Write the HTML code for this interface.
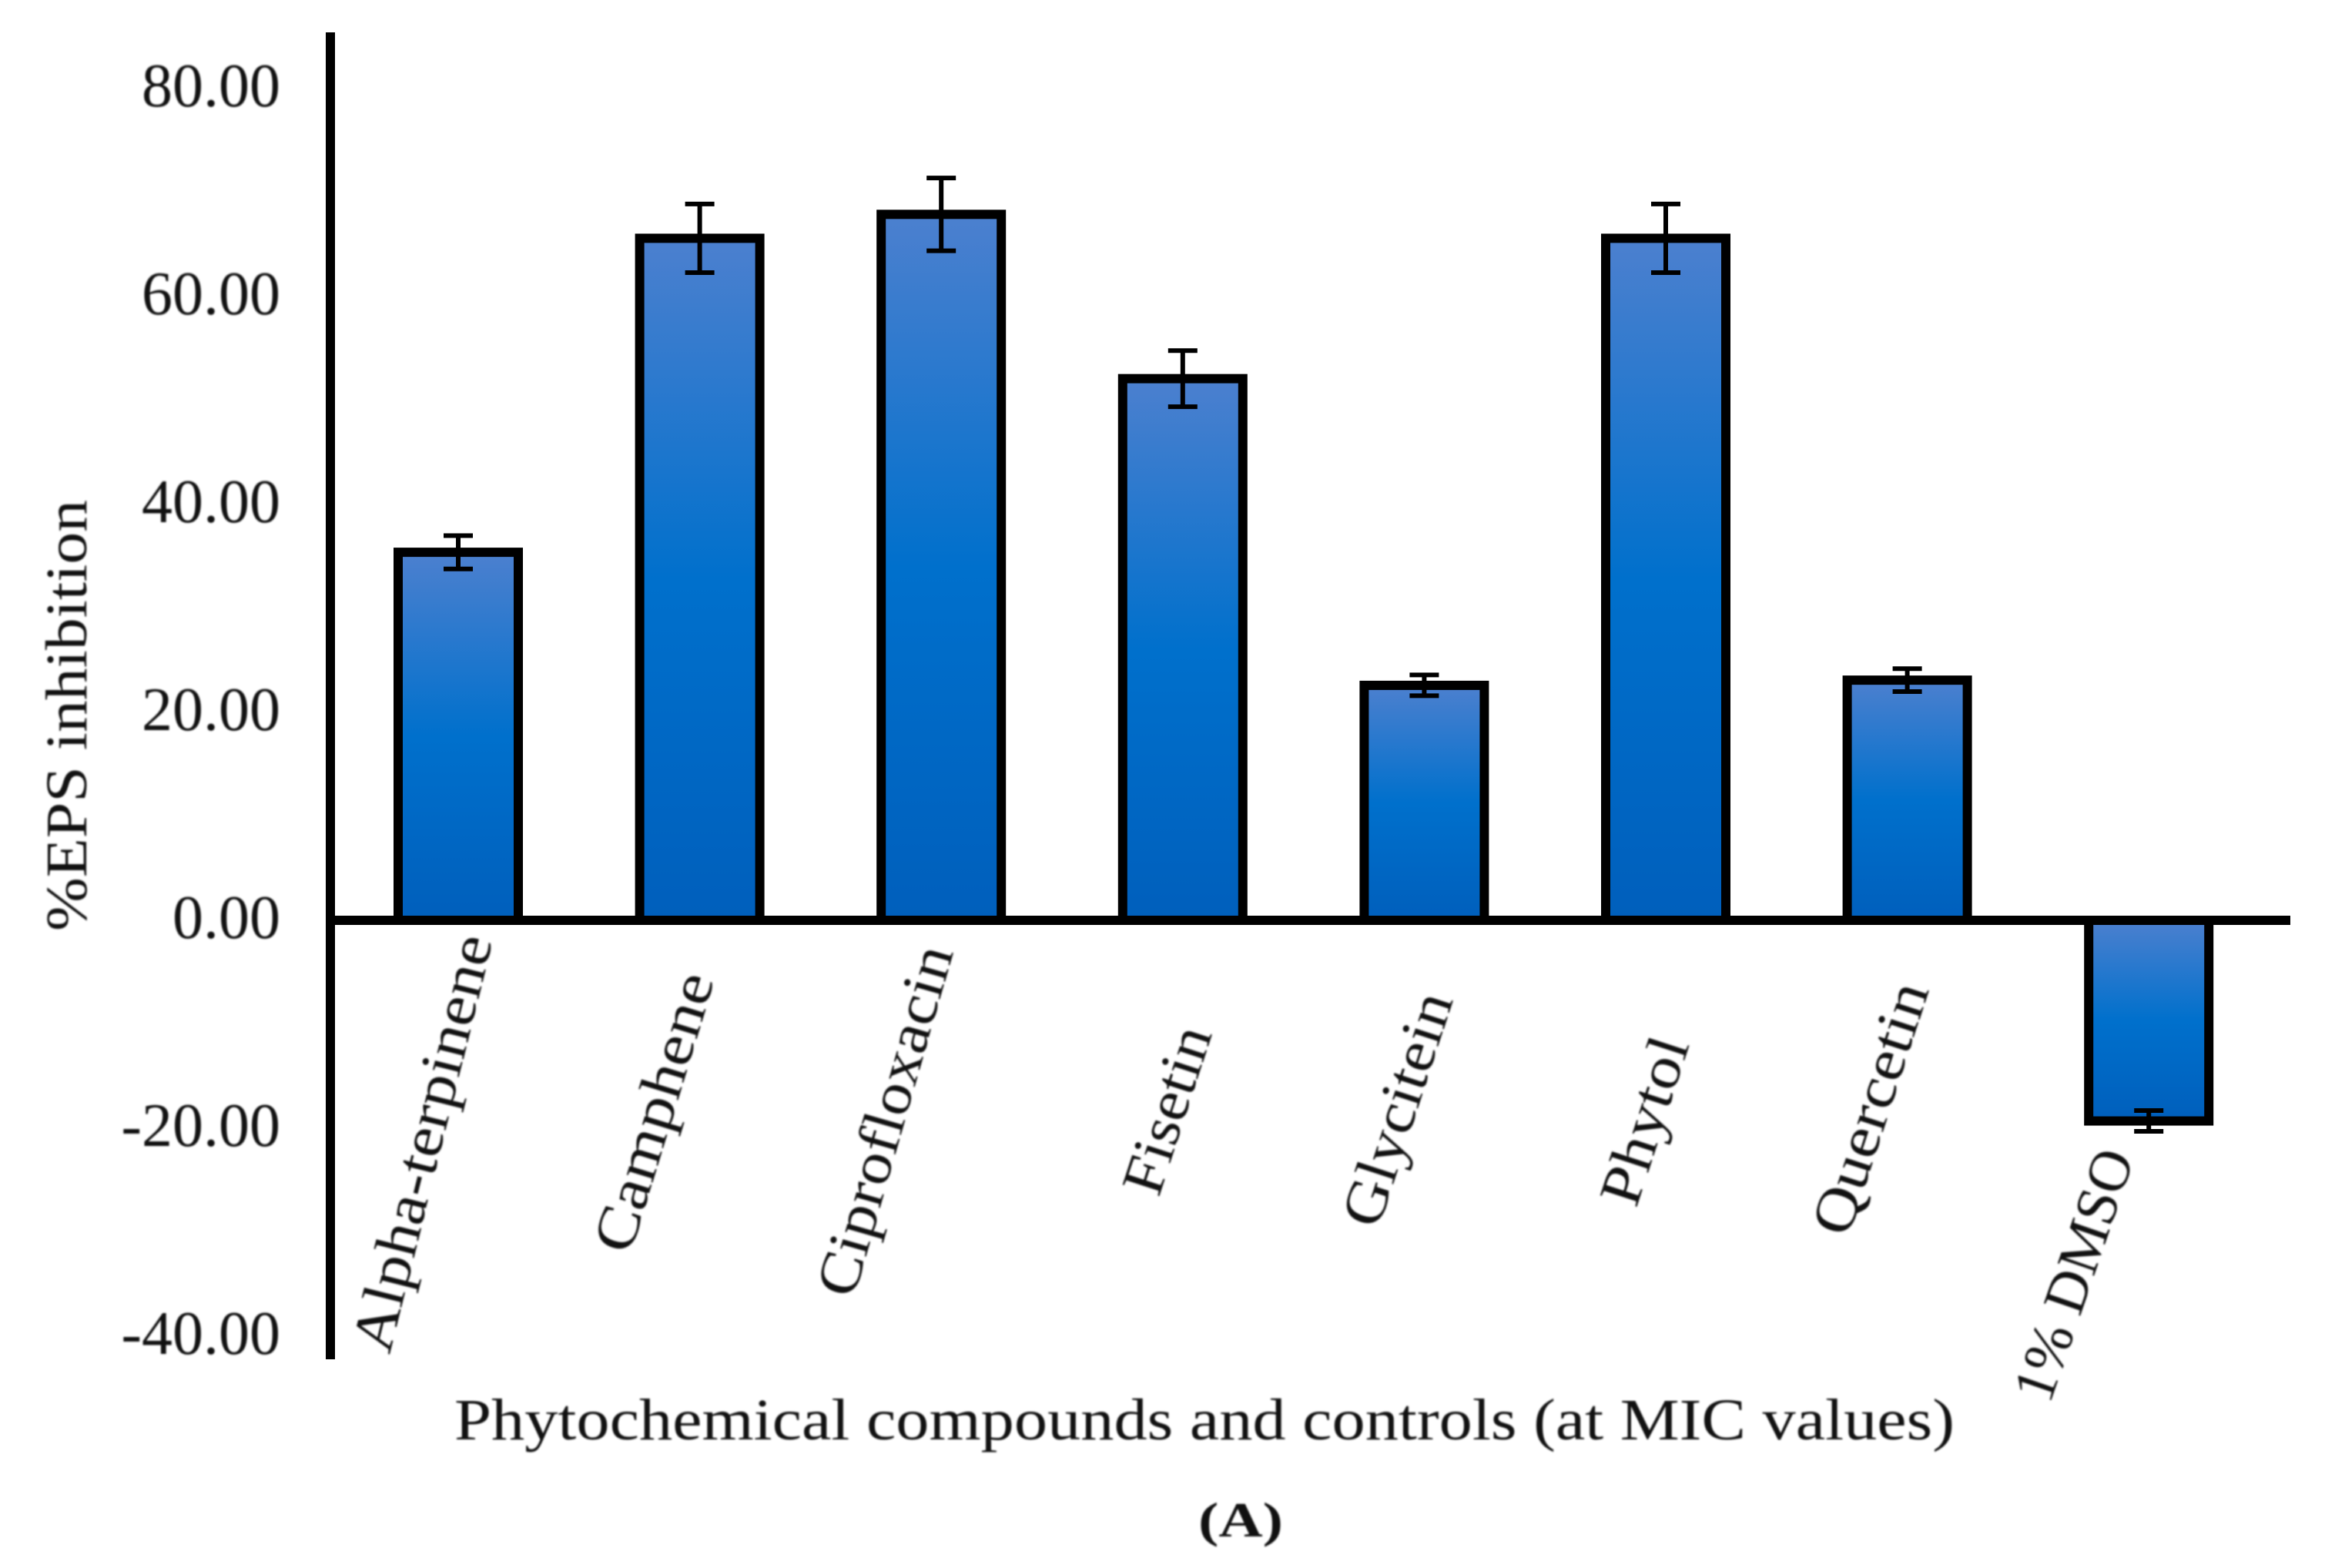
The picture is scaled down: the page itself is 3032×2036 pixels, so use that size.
<!DOCTYPE html>
<html>
<head>
<meta charset="utf-8">
<title>%EPS inhibition chart</title>
<style>
html,body{margin:0;padding:0;background:#fff;width:3032px;height:2036px;overflow:hidden}
svg{display:block}
text{font-family:"Liberation Serif",serif;fill:#111}
.soft{filter:blur(1px)}
</style>
</head>
<body>
<svg id="chart" xmlns="http://www.w3.org/2000/svg" width="3032" height="2036" viewBox="0 0 3032 2036">
  <defs>
    <linearGradient id="barFill" x1="0" y1="0" x2="0" y2="1">
      <stop offset="0" stop-color="#4c80cf"/>
      <stop offset="0.5" stop-color="#0070cc"/>
      <stop offset="1" stop-color="#005fbc"/>
    </linearGradient>
  </defs>
  <rect width="3032" height="2036" fill="#fff"/>
  <g id="bars"></g>
  <g id="errors"></g>
  <rect x="423" y="42" width="12" height="1723" fill="#000"/>
  <rect id="zeroLine" x="423" y="1189" width="2551" height="12" fill="#000"/>
  <g id="yticks" class="soft"></g>
  <g class="soft" font-size="76" text-anchor="end">
    <text transform="translate(640 1221) rotate(-76)" textLength="555" lengthAdjust="spacingAndGlyphs">Alpha-terpinene</text>
    <text transform="translate(928 1272) rotate(-73)" textLength="375" lengthAdjust="spacingAndGlyphs">Camphene</text>
    <text transform="translate(1238 1236) rotate(-74)" textLength="470" lengthAdjust="spacingAndGlyphs">Ciprofloxacin</text>
    <text transform="translate(1574 1342) rotate(-72)" textLength="225" lengthAdjust="spacingAndGlyphs">Fisetin</text>
    <text transform="translate(1887 1298) rotate(-72)" textLength="315" lengthAdjust="spacingAndGlyphs">Glycitein</text>
    <text transform="translate(2194 1356) rotate(-72)" textLength="225" lengthAdjust="spacingAndGlyphs">Phytol</text>
    <text transform="translate(2505 1285) rotate(-72)" textLength="340" lengthAdjust="spacingAndGlyphs">Quercetin</text>
    <text transform="translate(2772 1503) rotate(-71)" textLength="340" lengthAdjust="spacingAndGlyphs">1% DMSO</text>
  </g>
  <text class="soft" transform="translate(112 929) rotate(-90)" font-size="76" text-anchor="middle" textLength="560" lengthAdjust="spacingAndGlyphs">%EPS inhibition</text>
  <text class="soft" x="1564" y="1869" font-size="76" text-anchor="middle" textLength="1948" lengthAdjust="spacingAndGlyphs">Phytochemical compounds and controls (at MIC values)</text>
  <text class="soft" x="1611" y="1995" font-size="64" font-weight="bold" text-anchor="middle" textLength="110" lengthAdjust="spacingAndGlyphs">(A)</text>
</svg>
<script>
const categories = ["Alpha-terpinene", "Camphene", "Ciprofloxacin", "Fisetin", "Glycitein", "Phytol", "Quercetin", "1% DMSO"];
const inhibition = [35.4, 65.6, 67.9, 52.1, 22.6, 65.6, 23.1, -19.3];
const errorMargin = [1.6, 3.3, 3.5, 2.7, 1.0, 3.3, 1.1, 1.0];
const tickValues = [80, 60, 40, 20, 0, -20, -40];

const NS = "http://www.w3.org/2000/svg";
function yScale(v) { return 1195 - v * 13.5; }
function xScale(i) { return 595 + i * 313.6; }
function slug(s) { return s.toLowerCase().replace(/[^a-z0-9]+/g, "-"); }

const barsG = document.getElementById("bars");
const errG = document.getElementById("errors");
const tickG = document.getElementById("yticks");

categories.forEach(function (name, i) {
  const cx = xScale(i);
  const v = inhibition[i];
  const e = errorMargin[i];
  const bar = document.createElementNS(NS, "rect");
  
  
  bar.setAttribute("x", cx - 78);
  bar.setAttribute("width", 156);
  bar.setAttribute("y", Math.min(yScale(v), yScale(0)));
  bar.setAttribute("height", Math.abs(yScale(v) - yScale(0)));
  bar.setAttribute("fill", "url(#barFill)");
  bar.setAttribute("stroke", "#000");
  bar.setAttribute("stroke-width", "12");
  barsG.appendChild(bar);

  const whisker = document.createElementNS(NS, "path");
  
  
  const top = yScale(v + e);
  const low = yScale(v - e);
  whisker.setAttribute("d",
    "M" + cx + " " + top + "V" + low +
    "M" + (cx - 19) + " " + top + "H" + (cx + 19) +
    "M" + (cx - 19) + " " + low + "H" + (cx + 19));
  whisker.setAttribute("stroke", "#000");
  whisker.setAttribute("stroke-width", "6");
  whisker.setAttribute("fill", "none");
  errG.appendChild(whisker);
});

tickValues.forEach(function (t) {
  const label = document.createElementNS(NS, "text");
  
  
  label.setAttribute("x", 364);
  label.setAttribute("y", yScale(t) + 23);
  label.setAttribute("text-anchor", "end");
  label.setAttribute("font-size", "80");
  label.textContent = t.toFixed(2);
  tickG.appendChild(label);
});
</script>
</body>
</html>
